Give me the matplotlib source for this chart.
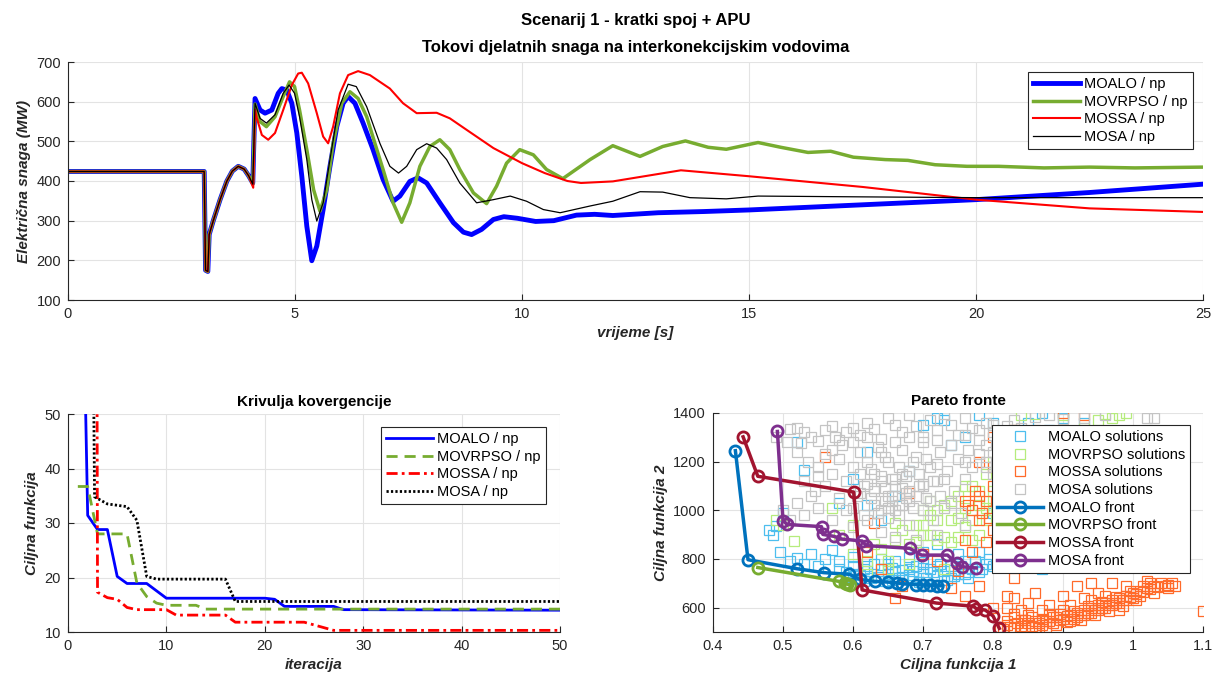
import matplotlib
matplotlib.use('Agg')
import matplotlib.pyplot as plt
from matplotlib.ticker import FormatStrFormatter

plt.rcParams['font.family'] = ['Liberation Sans', 'DejaVu Sans']

# ---- top: power flows on interconnection lines ----
t_pre = [0, 3.0, 3.03, 3.08, 3.11, 3.2, 3.35, 3.5, 3.62, 3.75, 3.88, 3.98]
p_pre = [424, 424, 175, 172, 265, 300, 353, 400, 425, 437, 430, 413]

t_moalo = [4.07, 4.12, 4.23, 4.34, 4.49, 4.63, 4.71, 4.82, 4.93, 5.04, 5.15, 5.26, 5.37, 5.48,
           5.62, 5.77, 5.92, 6.06, 6.17, 6.32, 6.50, 6.72, 6.94, 7.16, 7.31, 7.53, 7.71, 7.90,
           8.19, 8.49, 8.71, 8.89, 9.11, 9.37, 9.6, 9.9, 10.3, 10.7, 11.2, 11.6, 12.0, 13.0,
           14.0, 15.0, 17.5, 20.0, 22.5, 25.0]
p_moalo = [395, 608, 579, 571, 579, 621, 633, 629, 596, 521, 412, 286, 199, 236,
           328, 437, 537, 596, 613, 596, 546, 479, 404, 349, 362, 399, 408, 395,
           345, 295, 271, 265, 278, 303, 310, 306, 298, 300, 314, 316, 313, 320,
           323, 327, 340, 353, 371, 392]

t_movrpso = [4.07, 4.12, 4.23, 4.37, 4.56, 4.74, 4.88, 4.99, 5.10, 5.26, 5.41, 5.55, 5.70, 5.84,
             6.03, 6.21, 6.39, 6.58, 6.76, 6.94, 7.16, 7.35, 7.53, 7.75, 7.97, 8.19, 8.41, 8.63,
             8.93, 9.22, 9.44, 9.66, 9.95, 10.25, 10.54, 10.9, 11.5, 12.0, 12.6, 13.1, 13.6,
             14.1, 14.5, 15.2, 15.7, 16.3, 16.8, 17.3, 18.0, 18.5, 19.1, 19.8, 20.5, 21.5,
             22.5, 23.5, 25.0]
p_movrpso = [392, 594, 550, 537, 562, 613, 650, 638, 579, 479, 378, 324, 378, 495,
             596, 625, 608, 562, 495, 429, 345, 296, 345, 437, 487, 504, 479, 429,
             370, 343, 387, 445, 479, 466, 429, 406, 454, 489, 462, 487, 501,
             485, 480, 497, 485, 472, 475, 460, 454, 452, 441, 437, 437, 433,
             435, 433, 435]

t_mossa = [4.08, 4.12, 4.16, 4.27, 4.41, 4.56, 4.74, 4.93, 5.07, 5.15, 5.29, 5.48, 5.62, 5.73,
           5.84, 5.99, 6.17, 6.39, 6.65, 6.87, 7.09, 7.38, 7.68, 8.12, 8.41, 8.78, 9.37, 10.0,
           10.5, 11.0, 11.3, 12.0, 13.5, 15.0, 17.5, 20.0, 22.5, 25.0]
p_mossa = [383, 580, 558, 516, 504, 521, 579, 642, 671, 673, 646, 571, 512, 495,
           537, 621, 667, 677, 667, 650, 633, 596, 571, 572, 558, 529, 483, 445,
           420, 400, 395, 399, 427, 412, 385, 353, 331, 322]

t_mosa = [4.07, 4.12, 4.23, 4.37, 4.56, 4.74, 4.87, 4.99, 5.10, 5.26, 5.37, 5.48, 5.62, 5.77,
          5.95, 6.17, 6.35, 6.58, 6.87, 7.09, 7.28, 7.46, 7.68, 7.90, 8.12, 8.34, 8.63, 9.00,
          9.37, 9.74, 10.1, 10.47, 10.84, 11.5, 12.0, 12.6, 13.1, 13.7, 14.5, 15.2, 17.5,
          20.0, 25.0]
p_mosa = [392, 596, 558, 546, 567, 621, 642, 621, 562, 454, 353, 299, 345, 454,
          579, 644, 638, 587, 495, 437, 420, 437, 479, 494, 483, 454, 395, 345,
          353, 362, 349, 328, 320, 337, 349, 373, 372, 358, 355, 362, 360,
          358, 358]

# ---- bottom left: convergence curves ----
it_moalo = [1, 2, 3, 4, 5, 6, 8, 10, 20, 21, 22, 27, 28, 50]
cf_moalo = [124, 31.4, 28.8, 28.8, 20.2, 18.9, 18.9, 16.2, 16.2, 16.0, 14.7, 14.7, 14.1, 14.0]
it_movrpso = [1, 2, 3, 6, 7, 8, 9, 10, 13, 14, 50]
cf_movrpso = [36.7, 36.7, 28.0, 28.0, 19.0, 16.5, 15.3, 14.9, 14.9, 14.2, 14.2]
it_mossa = [2, 3, 4, 5, 6, 7, 10, 11, 16, 17, 24, 27, 50]
cf_mossa = [800, 17.3, 16.3, 16.0, 14.5, 14.1, 14.1, 13.1, 13.1, 11.8, 11.8, 10.3, 10.3]
it_mosa = [2, 2.7, 4, 6, 7, 8, 9, 16, 17, 50]
cf_mosa = [180, 34.8, 33.5, 33.0, 30.5, 20.2, 19.7, 19.7, 15.6, 15.6]

# ---- bottom right: solutions and pareto fronts ----
sol_moalo_f1 = [0.48, 0.485, 0.49, 0.495, 0.50, 0.52, 0.53, 0.51, 0.52, 0.53, 0.54, 0.55, 0.56, 0.57,
                0.58, 0.58, 0.59, 0.60, 0.61, 0.62, 0.63, 0.635, 0.64, 0.65, 0.66, 0.665, 0.67,
                0.68, 0.69, 0.70, 0.705, 0.71, 0.72, 0.725, 0.73, 0.74, 0.75, 0.76, 0.77, 0.78,
                0.79, 0.80, 0.81, 0.60, 0.64, 0.68, 0.70, 0.72, 0.75, 0.78, 0.82, 0.85, 0.87,
                0.60, 0.62, 0.64, 0.66, 0.68, 0.70, 0.72, 0.74, 0.76, 0.78, 0.80, 0.82, 0.84,
                0.86, 0.88, 0.90, 0.93, 0.96, 0.80, 0.83, 0.58, 0.62, 0.73, 0.85, 0.87, 0.90,
                0.95, 0.97, 0.615, 0.655, 0.695, 0.735, 0.765, 0.595, 0.645, 0.685, 0.745,
                0.59, 0.60, 0.615, 0.625, 0.64, 0.655, 0.67, 0.685, 0.70, 0.715, 0.73, 0.745,
                0.755, 0.765, 0.775, 0.785, 0.795, 0.68, 0.66, 0.72, 0.74, 0.76, 0.70, 0.65, 0.62]
sol_moalo_f2 = [920, 900, 935, 830, 990, 1280, 1165, 790, 805, 780, 820, 770, 800, 835,
                790, 760, 745, 770, 735, 750, 780, 725, 760, 740, 790, 720, 755,
                735, 770, 745, 720, 760, 735, 780, 750, 770, 740, 790, 760, 745,
                780, 770, 810, 810, 800, 810, 830, 860, 820, 830, 850, 800, 760,
                1130, 1020, 960, 1060, 1160, 1350, 1380, 1270, 1300, 1390, 1360, 1040, 950,
                1180, 1330, 1380, 1360, 1290, 990, 1200, 1030, 1240, 1370, 1360, 1400, 1060,
                900, 850, 710, 715, 705, 712, 722, 718, 708, 725, 730,
                725, 740, 760, 720, 735, 765, 725, 750, 765, 745, 730, 755,
                770, 745, 790, 760, 800, 760, 745, 770, 720, 740, 780, 780, 770]

sol_movrpso_f1 = [0.49, 0.50, 0.515, 0.57, 0.58, 0.60, 0.62, 0.63, 0.64, 0.65, 0.66, 0.67, 0.68,
                  0.69, 0.70, 0.71, 0.72, 0.73, 0.74, 0.75, 0.76, 0.77, 0.78, 0.79, 0.80, 0.81,
                  0.82, 0.83, 0.84, 0.85, 0.86, 0.87, 0.88, 0.90, 0.92, 0.93, 0.95, 0.96, 0.97,
                  0.98, 0.99, 0.90, 0.84, 0.86, 0.70, 0.66, 0.60, 0.62, 0.65, 0.68, 0.74, 0.78,
                  0.73, 0.82, 0.80, 0.85, 0.71, 0.75, 0.77, 0.79, 0.81, 0.83,
                  0.69, 0.70, 0.71, 0.72, 0.73, 0.74, 0.75, 0.76, 0.77, 0.78, 0.79, 0.80, 0.81,
                  0.82, 0.83, 0.84, 0.85, 0.72, 0.76, 0.80]
sol_movrpso_f2 = [960, 940, 875, 1010, 900, 820, 790, 860, 840, 790, 880, 920, 860,
                  940, 900, 980, 880, 1020, 960, 1060, 930, 1100, 1020, 1150, 1080, 1000,
                  1130, 1060, 1180, 1100, 1020, 1150, 1200, 1250, 1300, 1340, 1370, 1395, 1380,
                  1390, 1400, 1390, 1390, 1395, 1000, 950, 940, 740, 760, 780, 870, 900,
                  760, 900, 1200, 970, 1040, 890, 960, 1010, 1120, 1170,
                  870, 940, 900, 1000, 890, 1040, 970, 1010, 880, 1080, 960, 1040, 1140,
                  1010, 1220, 1060, 1180, 960, 1100, 1000]

sol_mossa_f1 = [0.81, 0.82, 0.82, 0.83, 0.83, 0.84, 0.84, 0.85, 0.85, 0.86, 0.86, 0.87, 0.87,
                0.88, 0.88, 0.89, 0.89, 0.90, 0.90, 0.91, 0.91, 0.92, 0.92, 0.93, 0.93, 0.94,
                0.94, 0.95, 0.95, 0.96, 0.96, 0.97, 0.97, 0.98, 0.98, 0.99, 0.99, 1.00, 1.00,
                1.01, 1.01, 1.02, 1.03, 1.04, 1.05, 1.06, 1.10,
                0.82, 0.83, 0.85, 0.86, 0.88, 0.90, 0.92, 0.93, 0.94, 0.95, 0.97, 0.98, 1.05, 0.84,
                0.62, 0.64, 0.66, 0.67, 0.70, 0.72, 0.74, 0.75, 0.76, 0.77, 0.78, 0.78, 0.79,
                0.80, 0.80, 0.81, 0.82, 0.83, 0.76,
                0.76, 0.765, 0.77, 0.775, 0.78, 0.785, 0.79, 0.80, 0.795, 0.80, 0.82, 0.84,
                0.78, 0.80, 0.83, 0.56, 0.90, 0.93, 0.63, 0.68,
                0.815, 0.825, 0.835, 0.845, 0.845, 0.855, 0.855, 0.865, 0.865, 0.875, 0.875,
                0.885, 0.885, 0.895, 0.895, 0.905, 0.905, 0.915, 0.915, 0.925, 0.925, 0.935,
                0.935, 0.945, 0.945, 0.955, 0.955, 0.965, 0.965, 0.975, 0.975, 0.985, 0.985,
                0.995, 0.995, 1.005, 1.005, 1.015, 1.015, 1.025, 1.025, 1.035, 1.045, 1.055,
                1.03, 0.96, 0.91, 0.87, 0.83, 0.99, 1.02, 0.94]
sol_mossa_f2 = [520, 530, 545, 515, 560, 525, 550, 535, 570, 520, 545, 555, 530,
                545, 575, 560, 530, 555, 590, 570, 545, 580, 560, 590, 570, 600,
                580, 610, 590, 620, 600, 630, 610, 640, 620, 650, 630, 660, 640,
                670, 650, 680, 690, 700, 695, 690, 585,
                600, 640, 620, 660, 610, 650, 690, 640, 700, 660, 700, 590, 680, 590,
                830, 760, 640, 690, 820, 790, 680, 750, 650, 830, 960, 690, 870,
                920, 600, 780, 650, 720, 880,
                1040, 1020, 1000, 1080, 1060, 990, 1040, 1100, 970, 1180, 1270, 1160,
                1200, 1300, 1330, 1220, 1400, 1390, 950, 1070,
                512, 522, 538, 515, 548, 525, 560, 535, 515, 545, 520,
                535, 562, 548, 575, 540, 565, 555, 585, 570, 548, 580,
                605, 590, 568, 600, 625, 610, 585, 620, 645, 630, 608,
                645, 668, 655, 630, 665, 690, 675, 700, 685, 690, 700,
                660, 650, 610, 590, 575, 690, 710, 630]

sol_mosa_f1 = [0.49, 0.505, 0.51, 0.52, 0.53, 0.525, 0.54, 0.55, 0.56, 0.57, 0.575, 0.585, 0.59,
               0.60, 0.61, 0.62, 0.63, 0.64, 0.65, 0.66, 0.67, 0.68, 0.69, 0.70, 0.71, 0.72,
               0.73, 0.74, 0.75, 0.76, 0.77, 0.78, 0.79, 0.80, 0.81, 0.82, 0.83, 0.84, 0.86,
               0.88, 0.90, 0.93, 0.96, 1.02, 1.03,
               0.52, 0.535, 0.55, 0.56, 0.57, 0.58, 0.59, 0.60, 0.61, 0.615, 0.62, 0.625, 0.63,
               0.635, 0.64, 0.645, 0.65, 0.655, 0.66, 0.665, 0.67, 0.675, 0.68, 0.685, 0.69,
               0.695, 0.70, 0.705, 0.71, 0.715, 0.72, 0.725, 0.73, 0.735, 0.74, 0.745, 0.75,
               0.755, 0.76, 0.765, 0.77, 0.78, 0.79, 0.80, 0.81, 0.82, 0.83,
               0.50, 0.51, 0.52, 0.53, 0.54, 0.55, 0.56, 0.57, 0.58, 0.59, 0.60, 0.61, 0.62,
               0.63, 0.64, 0.65, 0.66, 0.67, 0.68, 0.69, 0.70, 0.72, 0.74, 0.76, 0.55, 0.53,
               0.545, 0.645, 0.655, 0.665, 0.675, 0.64, 0.66, 0.68, 0.70, 0.63, 0.65, 0.67,
               0.79, 0.80, 0.82, 0.84, 0.85, 0.87,
               0.60, 0.605, 0.61, 0.615, 0.62, 0.625, 0.63, 0.635, 0.64, 0.645, 0.65, 0.655,
               0.66, 0.665, 0.67, 0.675, 0.68, 0.685, 0.69, 0.695, 0.70, 0.705, 0.71, 0.715,
               0.72, 0.725, 0.73, 0.57, 0.58, 0.60, 0.62, 0.64, 0.66, 0.68, 0.72, 0.76, 0.80,
               0.82, 0.84, 0.78, 0.76, 0.79, 0.81, 0.83, 0.85, 0.86]
sol_mosa_f2 = [1300, 1280, 1335, 1340, 1320, 1275, 1300, 1285, 1330, 1345, 1300, 1270, 1320,
               1340, 1310, 1360, 1335, 1295, 1380, 1350, 1320, 1390, 1345, 1300, 1370, 1330,
               1395, 1350, 1310, 1380, 1340, 1290, 1360, 1320, 1280, 1345, 1370, 1300, 1385,
               1390, 1375, 1380, 1390, 1380, 1380,
               1240, 1200, 1180, 1230, 1150, 1210, 1120, 1180, 1240, 1100, 1200, 1050, 1150,
               1260, 1000, 1090, 1200, 1040, 1130, 980, 1250, 1070, 1160, 1010, 1220,
               1100, 1280, 1050, 1180, 960, 1120, 1240, 1010, 1160, 1270, 1080, 1210,
               990, 1130, 1250, 1180, 1230, 1270, 1240, 1200, 1260, 1230,
               1000, 960, 1030, 980, 1060, 1010, 1100, 960, 1050, 1000, 930, 1070, 960,
               1020, 910, 970, 890, 1020, 940, 880, 1000, 900, 1030, 940, 1140, 1120,
               1080, 1040, 1060, 1020, 1050, 1120, 1100, 1080, 1110, 1090, 1010, 1150,
               1200, 1150, 1300, 1250, 1310, 1280,
               1010, 1060, 1150, 980, 1110, 1170, 1080, 990, 1140, 1220, 1060, 1130,
               1000, 1180, 1090, 1140, 1040, 1200, 1060, 1150, 1100, 1210, 1040, 1120,
               1190, 1060, 1130, 1250, 1290, 1280, 1300, 1240, 1280, 1300, 1290, 1310, 1350,
               1310, 1340, 1330, 1200, 1180, 1250, 1290, 1260, 1330]

front_moalo_f1 = [0.432, 0.450, 0.520, 0.558, 0.595, 0.610, 0.631, 0.650, 0.663, 0.670, 0.690,
                  0.700, 0.710, 0.720, 0.728]
front_moalo_f2 = [1245, 797, 760, 744, 737, 716, 708, 705, 702, 698, 695, 693, 692, 690, 690]
front_movrpso_f1 = [0.464, 0.580, 0.588, 0.592, 0.596]
front_movrpso_f2 = [765, 708, 700, 696, 694]
front_mossa_f1 = [0.443, 0.464, 0.601, 0.613, 0.719, 0.772, 0.776, 0.789, 0.800, 0.809]
front_mossa_f2 = [1302, 1140, 1075, 673, 619, 606, 596, 590, 566, 515]
front_mosa_f1 = [0.492, 0.500, 0.506, 0.555, 0.557, 0.573, 0.584, 0.613, 0.619, 0.681, 0.698,
                 0.735, 0.748, 0.756, 0.776]
front_mosa_f2 = [1324, 958, 942, 933, 901, 893, 882, 874, 855, 844, 816, 816, 782, 768, 763]

TXT = '#262626'


def style(ax):
    ax.grid(True, color='#e3e3e3', lw=0.8)
    ax.set_axisbelow(True)
    for s in ['top', 'right']:
        ax.spines[s].set_visible(False)
    for s in ['left', 'bottom']:
        ax.spines[s].set_color(TXT)
        ax.spines[s].set_linewidth(0.8)
    ax.tick_params(direction='in', length=4, colors=TXT, labelsize=10.5, pad=5)


def legend(ax, x, y):
    lg = ax.legend(loc='upper right', bbox_to_anchor=(x, y), borderaxespad=0,
                   fontsize=10.5, frameon=True, fancybox=False, framealpha=1,
                   edgecolor=TXT, handlelength=3.2, handletextpad=0.3,
                   labelspacing=0.25, borderpad=0.35)
    lg.get_frame().set_linewidth(0.8)
    return lg


fig = plt.figure(figsize=(12.15, 6.86), dpi=100)
W, H = 1215, 686

# top axes
ax1 = fig.add_axes([68 / W, 1 - 300 / H, 1135 / W, 238 / H])
ax1.plot(t_pre + t_moalo, p_pre + p_moalo, color='#0000ff', lw=3.5, label='MOALO / np')
ax1.plot(t_pre + t_movrpso, p_pre + p_movrpso, color='#77ac30', lw=2.5, label='MOVRPSO / np')
ax1.plot(t_pre + t_mossa, p_pre + p_mossa, color='#ff0000', lw=1.5, label='MOSSA / np')
ax1.plot(t_pre + t_mosa, p_pre + p_mosa, color='#000000', lw=0.9, label='MOSA / np')
ax1.set_xlim(0, 25)
ax1.set_ylim(100, 700)
style(ax1)
ax1.set_xlabel('vrijeme [s]', fontsize=11, fontweight='bold', fontstyle='italic', color=TXT)
ax1.set_ylabel('Električna snaga (MW)', fontsize=11, fontweight='bold', fontstyle='italic', color=TXT)
legend(ax1, 1 - 10 / 1135, 1 - 10 / 238)
ax1.set_title('Tokovi djelatnih snaga na interkonekcijskim vodovima', fontsize=12,
              fontweight='bold', pad=7)
fig.text(0.523, 1 - 21 / H, 'Scenarij 1 - kratki spoj + APU', fontsize=12,
         fontweight='bold', ha='center', va='center')

# convergence axes
ax2 = fig.add_axes([68 / W, 1 - 632 / H, 492 / W, 218 / H])
ax2.plot(it_moalo, cf_moalo, color='#0000ff', lw=2, ls='-', label='MOALO / np')
ax2.plot(it_movrpso, cf_movrpso, color='#77ac30', lw=2, ls=(0, (4, 2.5)), label='MOVRPSO / np')
ax2.plot(it_mossa, cf_mossa, color='#ff0000', lw=2, ls=(0, (4, 1.5, 1, 1.5)), label='MOSSA / np')
ax2.plot(it_mosa, cf_mosa, color='#000000', lw=2, ls=(0, (0.8, 0.8)), label='MOSA / np')
ax2.set_xlim(0, 50)
ax2.set_ylim(10, 50)
ax2.set_xticks([0, 10, 20, 30, 40, 50])
ax2.set_yticks([10, 20, 30, 40, 50])
style(ax2)
ax2.set_xlabel('iteracija', fontsize=11, fontweight='bold', fontstyle='italic', color=TXT)
ax2.set_ylabel('Ciljna funkcija', fontsize=11, fontweight='bold', fontstyle='italic', color=TXT)
ax2.set_title('Krivulja kovergencije', fontsize=11, fontweight='bold', pad=6)
legend(ax2, (546 - 68) / 492, (632 - 427) / 218)

# pareto axes
ax3 = fig.add_axes([713 / W, 1 - 632 / H, 490 / W, 219 / H])
sq = dict(ls='none', marker='s', ms=6.5, mfc='none', mew=0.9)
ax3.plot(sol_moalo_f1, sol_moalo_f2, color='#4dbeee', label='MOALO solutions', **sq)
ax3.plot(sol_movrpso_f1, sol_movrpso_f2, color='#b5ec7c', label='MOVRPSO solutions', **sq)
ax3.plot(sol_mossa_f1, sol_mossa_f2, color='#ff6a2a', label='MOSSA solutions', **sq)
ax3.plot(sol_mosa_f1, sol_mosa_f2, color='#c4c4c4', label='MOSA solutions', **sq)
fr = dict(marker='o', ms=8, mfc='none', mew=2, lw=2.5)
ax3.plot(front_moalo_f1, front_moalo_f2, color='#0072bd', label='MOALO front', **fr)
ax3.plot(front_movrpso_f1, front_movrpso_f2, color='#77ac30', label='MOVRPSO front', **fr)
ax3.plot(front_mossa_f1, front_mossa_f2, color='#a2142f', label='MOSSA front', **fr)
ax3.plot(front_mosa_f1, front_mosa_f2, color='#7e2f8e', label='MOSA front', **fr)
ax3.set_xlim(0.4, 1.1)
ax3.set_ylim(500, 1400)
ax3.set_xticks([0.4, 0.5, 0.6, 0.7, 0.8, 0.9, 1.0, 1.1])
ax3.set_yticks([600, 800, 1000, 1200, 1400])
ax3.xaxis.set_major_formatter(FormatStrFormatter('%g'))
style(ax3)
ax3.set_xlabel('Ciljna funkcija 1', fontsize=11, fontweight='bold', fontstyle='italic', color=TXT)
ax3.set_ylabel('Ciljna funkcija 2', fontsize=11, fontweight='bold', fontstyle='italic', color=TXT)
ax3.set_title('Pareto fronte', fontsize=11, fontweight='bold', pad=6)
legend(ax3, (1190 - 713) / 490, (632 - 425) / 219)

fig.savefig('out.png', dpi=100)
